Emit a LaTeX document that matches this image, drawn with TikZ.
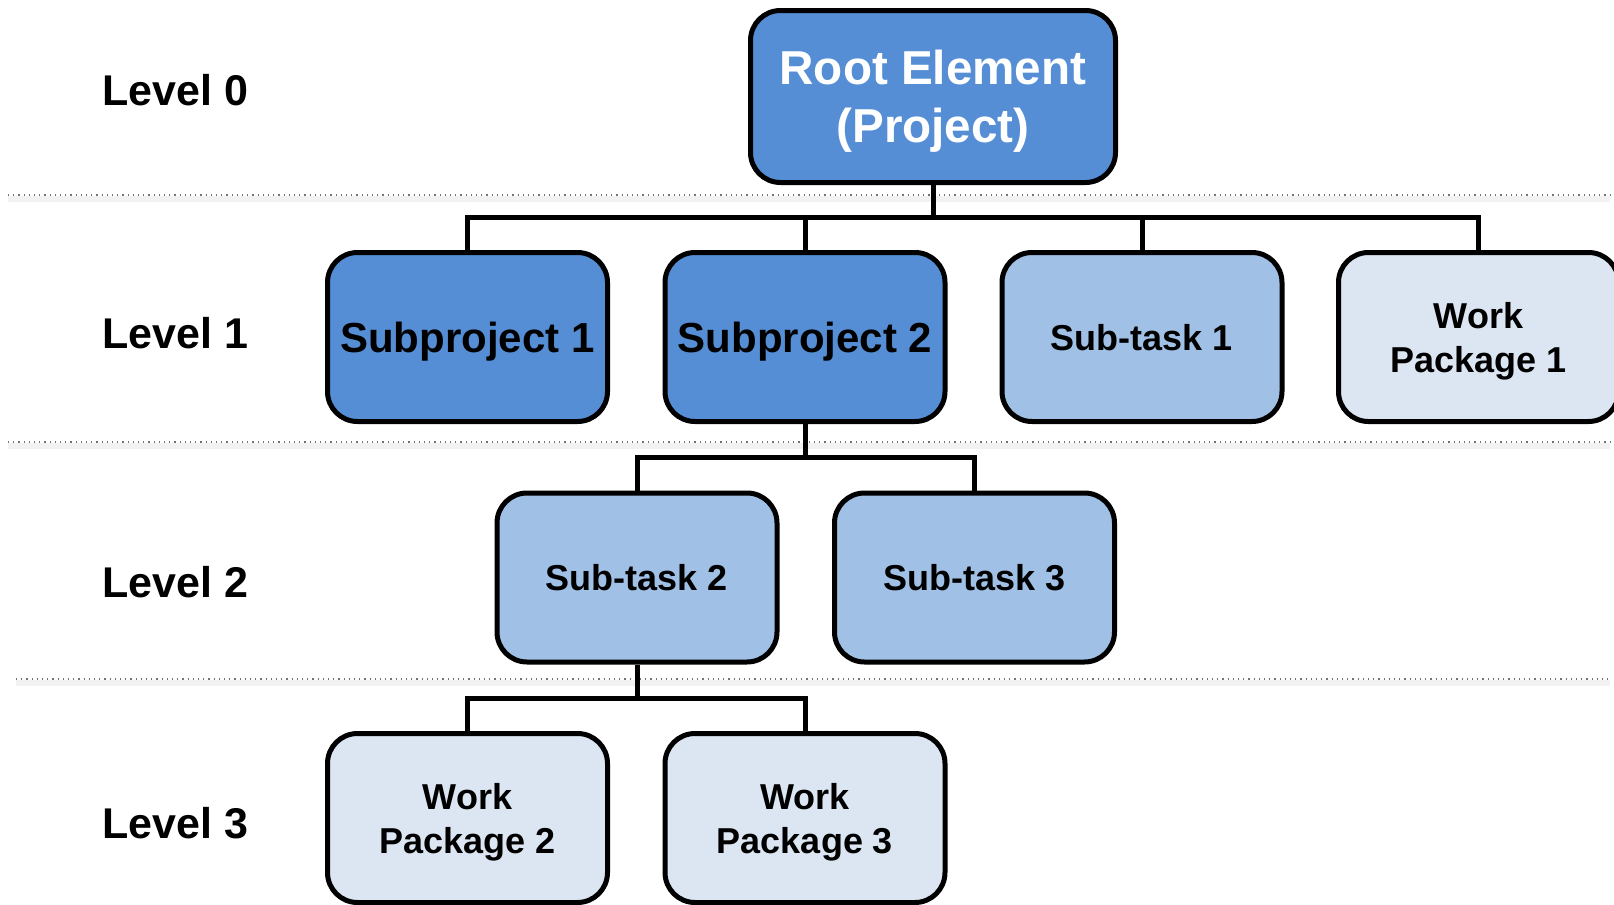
\documentclass[tikz,border=0pt]{standalone}
\usepackage{fontspec}
\setmainfont{Liberation Sans}
\definecolor{darkblue}{RGB}{85,142,213}
\definecolor{midblue}{RGB}{160,192,230}
\definecolor{lightblue}{RGB}{220,230,242}
\tikzset{
  box/.style={draw=black, line width=2.5pt, rounded corners=15pt, align=center, inner sep=0pt,
    minimum width=140pt, minimum height=84.5pt, text depth=0pt, font=\bfseries},
  rootbox/.style={box, fill=darkblue, text=white, minimum width=182.5pt, minimum height=86pt,
    font=\fontsize{23.8}{29}\selectfont\bfseries},
  subproj/.style={box, fill=darkblue, font=\fontsize{21}{25}\selectfont\bfseries},
  subtask/.style={box, fill=midblue, font=\fontsize{18}{22}\selectfont\bfseries},
  workpkg/.style={box, fill=lightblue, font=\fontsize{18}{22}\selectfont\bfseries},
  levellabel/.style={anchor=west, inner sep=0pt, font=\fontsize{21.5}{25}\selectfont\bfseries},
  conn/.style={draw=black, line width=2.5pt},
  sepline/.style={draw=black!55, line width=0.6pt, dotted},
  sepshadow/.style={draw=black!5, line width=3pt}
}
\begin{document}
\begin{tikzpicture}[x=0.5pt,y=-0.5pt]
\useasboundingbox (0,0) rectangle (1614,905);
% separators
\draw[sepshadow] (8,199) -- (1610,199);
\draw[sepline] (8,195) -- (1610,195);
\draw[sepshadow] (8,446) -- (1610,446);
\draw[sepline] (8,442) -- (1610,442);
\draw[sepshadow] (16,683) -- (1610,683);
\draw[sepline] (16,679) -- (1610,679);
% level labels
\node[levellabel] (l0) at (102,90) {Level 0};
\node[levellabel] (l1) at (102,333) {Level 1};
\node[levellabel] (l2) at (102,582) {Level 2};
\node[levellabel] (l3) at (102,823) {Level 3};
% nodes
\node[rootbox] (root) at (933,96.5) {Root Element\\(Project)};
\node[subproj] (sp1) at (467.5,337) {Subproject 1};
\node[subproj] (sp2) at (805,337) {Subproject 2};
\node[subtask] (st1) at (1142,337) {Sub-task 1};
\node[workpkg] (wp1) at (1478.5,337) {Work\\Package 1};
\node[subtask] (st2) at (637,577.5) {Sub-task 2};
\node[subtask] (st3) at (974.5,577.5) {Sub-task 3};
\node[workpkg] (wp2) at (467.5,818) {Work\\Package 2};
\node[workpkg] (wp3) at (805,818) {Work\\Package 3};
% connectors
\coordinate (b0) at (933,217);
\coordinate (b1) at (805,457);
\coordinate (b2) at (637,698);
\draw[conn] (root.south) -- (b0);
\draw[conn] (sp1.north) |- (b0);
\draw[conn] (sp2.north) |- (b0);
\draw[conn] (st1.north) |- (b0);
\draw[conn] (wp1.north) |- (b0);
\draw[conn] (sp2.south) -- (b1);
\draw[conn] (st2.north) |- (b1);
\draw[conn] (st3.north) |- (b1);
\draw[conn] (st2.south) -- (b2);
\draw[conn] (wp2.north) |- (b2);
\draw[conn] (wp3.north) |- (b2);
\end{tikzpicture}
\end{document}
